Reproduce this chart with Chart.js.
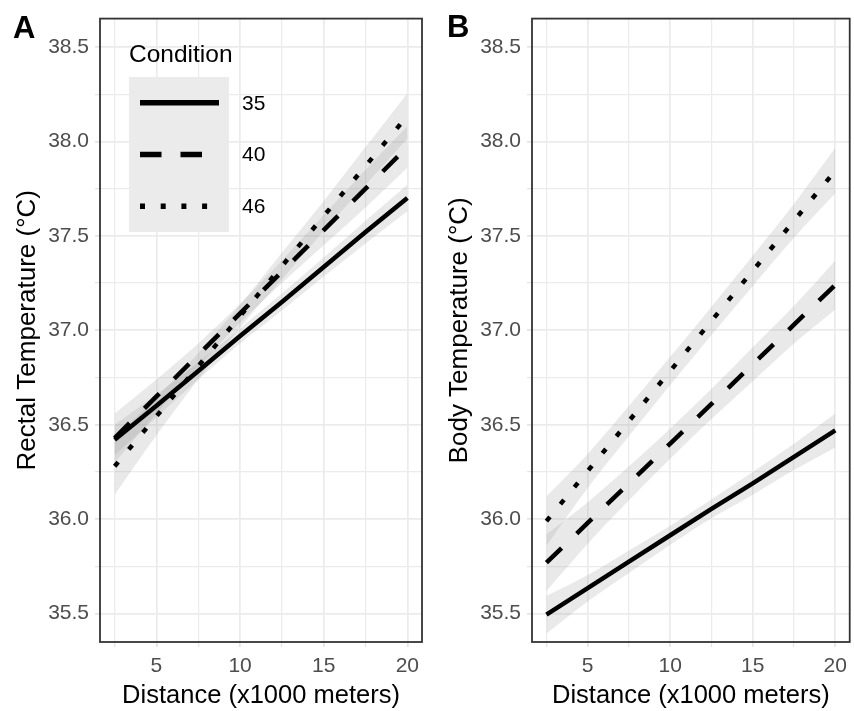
<!DOCTYPE html>
<html>
<head>
<meta charset="utf-8">
<script src="https://cdn.jsdelivr.net/npm/chart.js@4.4.0/dist/chart.umd.min.js"></script>
<style>
  html, body { margin: 0; padding: 0; background: #fff; }
  #wrap { position: relative; width: 854px; height: 711px; overflow: hidden; }
  canvas { position: absolute; top: 0; }
  #chartA { left: 0; }
  #chartB { left: 427px; }
</style>
</head>
<body>
<div id="wrap">
  <canvas id="chartA" width="427" height="711"></canvas>
  <canvas id="chartB" width="427" height="711"></canvas>
</div>
<script>
// Distance along the route (x1000 meters) at which fitted values are given
const distance = [2.5, 5, 7.5, 10, 12.5, 15, 17.5, 20];
const conditions = ['35', '40', '46'];

// Axis ticks
const xGridValues = [2.5, 5, 7.5, 10, 12.5, 15, 17.5, 20];
const xTickLabels = [5, 10, 15, 20];
const yGridValues = [35.5, 35.75, 36, 36.25, 36.5, 36.75, 37, 37.25, 37.5, 37.75, 38, 38.25, 38.5];
const yTickLabels = [35.5, 36.0, 36.5, 37.0, 37.5, 38.0, 38.5];

// Panel A: rectal temperature (fit, lower and upper confidence limits)
const rectal35 = [36.42, 36.60, 36.785, 36.97, 37.15, 37.335, 37.52, 37.70];
const rectal35Lo = [36.34, 36.54, 36.74, 36.93, 37.105, 37.285, 37.46, 37.63];
const rectal35Hi = [36.50, 36.66, 36.83, 37.01, 37.195, 37.385, 37.58, 37.77];

const rectal40 = [36.43, 36.65, 36.87, 37.09, 37.31, 37.53, 37.75, 37.97];
const rectal40Lo = [36.30, 36.56, 36.81, 37.04, 37.25, 37.45, 37.65, 37.86];
const rectal40Hi = [36.56, 36.74, 36.93, 37.14, 37.37, 37.61, 37.85, 38.08];

const rectal46 = [36.28, 36.545, 36.81, 37.075, 37.34, 37.605, 37.87, 38.135];
const rectal46Lo = [36.13, 36.445, 36.74, 37.015, 37.27, 37.525, 37.77, 38.015];
const rectal46Hi = [36.43, 36.645, 36.88, 37.135, 37.41, 37.685, 37.97, 38.255];

// Panel B: body temperature (fit, lower and upper confidence limits)
const body35 = [35.495, 35.635, 35.775, 35.915, 36.055, 36.19, 36.33, 36.47];
const body35Lo = [35.395, 35.565, 35.715, 35.865, 36.005, 36.13, 36.26, 36.38];
const body35Hi = [35.595, 35.705, 35.835, 35.965, 36.105, 36.25, 36.40, 36.56];

const body40 = [35.77, 35.98, 36.19, 36.40, 36.61, 36.82, 37.03, 37.24];
const body40Lo = [35.62, 35.87, 36.10, 36.32, 36.53, 36.73, 36.93, 37.11];
const body40Hi = [35.92, 36.09, 36.28, 36.48, 36.69, 36.91, 37.13, 37.37];

const body46 = [35.99, 36.255, 36.52, 36.785, 37.05, 37.315, 37.58, 37.845];
const body46Lo = [35.86, 36.165, 36.44, 36.71, 36.975, 37.235, 37.49, 37.725];
const body46Hi = [36.12, 36.345, 36.60, 36.86, 37.125, 37.395, 37.67, 37.965];

// Line styles per condition: solid, dashed, dotted
const lineDashes = [[], [21, 21], [5.5, 16.5]];

const FONT = '"Liberation Sans", Arial, "DejaVu Sans", sans-serif';
const GRID = '#ebebeb';
const BAND = 'rgba(153,153,153,0.22)';

function pts(arr) {
  return distance.map((x, i) => ({ x: x, y: arr[i] }));
}

function buildDatasets(fits, lows, highs) {
  const lines = fits.map((f, k) => ({
    label: conditions[k],
    data: pts(f),
    borderColor: '#000',
    borderWidth: 4.5,
    borderDash: lineDashes[k],
    borderCapStyle: 'butt',
    pointRadius: 0,
    fill: false,
    tension: 0,
    order: 0
  }));
  const bands = [];
  lows.forEach((lo, k) => {
    bands.push({
      label: 'upper ' + conditions[k],
      data: pts(highs[k]),
      borderWidth: 0,
      borderColor: 'rgba(0,0,0,0)',
      backgroundColor: BAND,
      pointRadius: 0,
      cubicInterpolationMode: 'monotone',
      fill: '+1',
      order: 1
    });
    bands.push({
      label: 'lower ' + conditions[k],
      data: pts(lo),
      borderWidth: 0,
      borderColor: 'rgba(0,0,0,0)',
      pointRadius: 0,
      cubicInterpolationMode: 'monotone',
      fill: false,
      order: 1
    });
  });
  return lines.concat(bands);
}

// Dark frame round the plotting panel
const panelBorder = {
  id: 'panelBorder',
  afterDatasetsDraw(chart) {
    const a = chart.chartArea;
    const ctx = chart.ctx;
    ctx.save();
    ctx.strokeStyle = '#333333';
    ctx.lineWidth = 1.8;
    ctx.strokeRect(a.left, a.top, a.right - a.left, a.bottom - a.top);
    ctx.restore();
  }
};

// Bold panel letter
const panelTag = {
  id: 'panelTag',
  afterDraw(chart, args, opts) {
    const ctx = chart.ctx;
    ctx.save();
    ctx.fillStyle = '#000';
    ctx.font = 'bold 31px ' + FONT;
    ctx.textBaseline = 'alphabetic';
    ctx.textAlign = 'left';
    ctx.fillText(opts.text, opts.x, opts.y);
    ctx.restore();
  }
};

// Legend for the conditions, placed inside panel A
const conditionLegend = {
  id: 'conditionLegend',
  afterDraw(chart, args, opts) {
    if (!opts.show) return;
    const ctx = chart.ctx;
    ctx.save();
    ctx.fillStyle = '#000';
    ctx.font = '24.5px ' + FONT;
    ctx.textAlign = 'left';
    ctx.textBaseline = 'alphabetic';
    ctx.fillText('Condition', 129, 62);
    ctx.fillStyle = '#ebebeb';
    ctx.fillRect(129, 77, 100, 155);
    const rowH = 155 / 3;
    conditions.forEach((c, k) => {
      const cy = 77 + rowH * (k + 0.5);
      ctx.strokeStyle = '#000';
      ctx.lineWidth = 5.5;
      ctx.lineCap = 'butt';
      ctx.setLineDash(k === 0 ? [] : (k === 1 ? [21.5, 19] : [5, 15.7]));
      ctx.beginPath();
      ctx.moveTo(140, cy);
      ctx.lineTo(219, cy);
      ctx.stroke();
      ctx.setLineDash([]);
      ctx.fillStyle = '#000';
      ctx.font = '21px ' + FONT;
      ctx.textBaseline = 'middle';
      ctx.fillText(c, 242, cy + 1);
    });
    ctx.restore();
  }
};

function makeChart(canvasId, datasets, yTitle, yWidth, titlePad, padRight, tag, showLegend) {
  return new Chart(document.getElementById(canvasId), {
    type: 'line',
    data: { datasets: datasets },
    plugins: [panelBorder, panelTag, conditionLegend],
    options: {
      responsive: false,
      animation: false,
      layout: { padding: { left: 0, top: 10, right: padRight, bottom: 0 } },
      plugins: {
        legend: { display: false },
        tooltip: { enabled: false },
        panelTag: tag,
        conditionLegend: { show: showLegend }
      },
      scales: {
        x: {
          type: 'linear',
          min: 1.625,
          max: 20.875,
          afterBuildTicks(scale) { scale.ticks = xGridValues.map(v => ({ value: v })); },
          afterFit(scale) { scale.height = 69; },
          border: { display: false },
          grid: {
            color: GRID,
            lineWidth: c => (c.tick && xTickLabels.includes(c.tick.value)) ? 1.7 : 1.2,
            drawTicks: true,
            tickLength: 5,
            tickColor: '#e4e4e4'
          },
          ticks: {
            autoSkip: false,
            maxRotation: 0,
            padding: 7,
            color: '#4d4d4d',
            font: { family: FONT, size: 21 },
            callback: v => xTickLabels.includes(v) ? String(v) : ''
          },
          title: {
            display: true,
            text: 'Distance (x1000 meters)',
            color: '#000',
            font: { family: FONT, size: 25.5 },
            padding: { top: 0, bottom: 0 }
          }
        },
        y: {
          type: 'linear',
          min: 35.35,
          max: 38.65,
          afterBuildTicks(scale) { scale.ticks = yGridValues.map(v => ({ value: v })); },
          afterFit(scale) { scale.width = yWidth; },
          border: { display: false },
          grid: {
            color: GRID,
            lineWidth: c => (c.tick && yTickLabels.includes(c.tick.value)) ? 1.7 : 1.2,
            drawTicks: true,
            tickLength: 5,
            tickColor: '#e4e4e4'
          },
          ticks: {
            autoSkip: false,
            padding: 6,
            color: '#4d4d4d',
            font: { family: FONT, size: 21 },
            callback: v => yTickLabels.includes(v) ? v.toFixed(1) : ''
          },
          title: {
            display: true,
            text: yTitle,
            color: '#000',
            font: { family: FONT, size: 26 },
            padding: { top: titlePad, bottom: 0 }
          }
        }
      }
    }
  });
}

makeChart('chartA',
  buildDatasets([rectal35, rectal40, rectal46],
                [rectal35Lo, rectal40Lo, rectal46Lo],
                [rectal35Hi, rectal40Hi, rectal46Hi]),
  'Rectal Temperature (°C)', 100, 12.4, 5,
  { text: 'A', x: 13, y: 38 }, true);

makeChart('chartB',
  buildDatasets([body35, body40, body46],
                [body35Lo, body40Lo, body46Lo],
                [body35Hi, body40Hi, body46Hi]),
  'Body Temperature (°C)', 105, 17.4, 1,
  { text: 'B', x: 20, y: 37 }, false);
</script>
</body>
</html>
